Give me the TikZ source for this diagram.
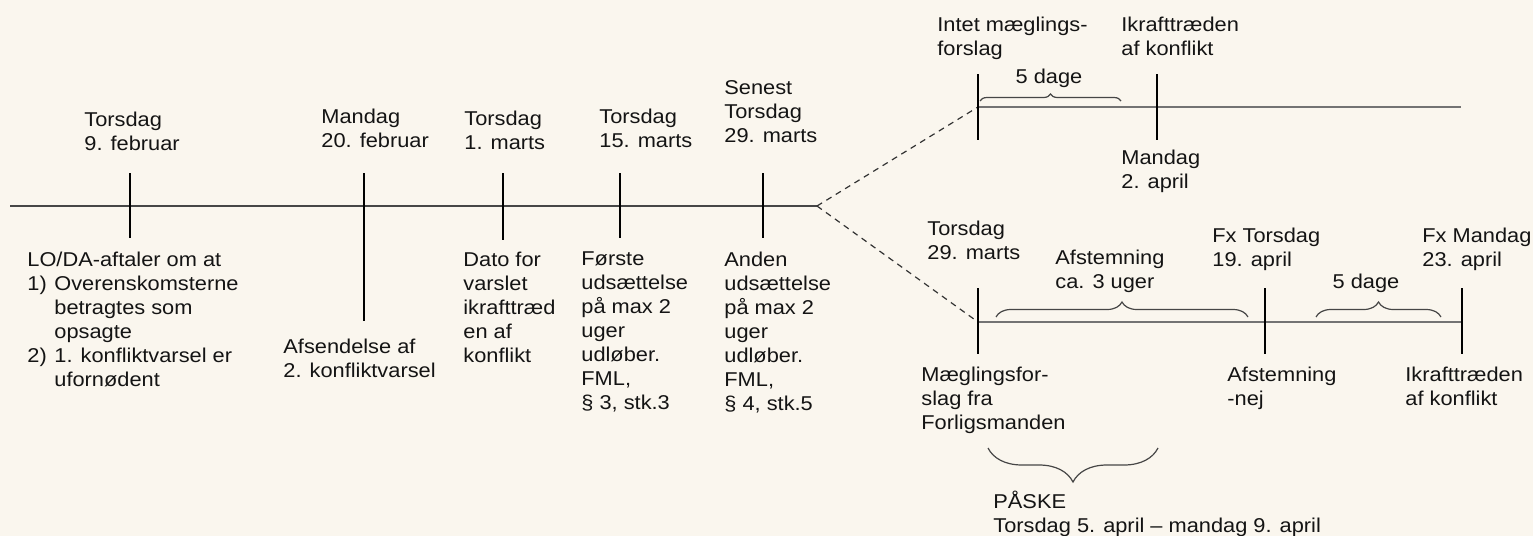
\documentclass[tikz,border=0pt]{standalone}
\usepackage{fontspec}
\setmainfont{Liberation Sans}[FakeStretch=1.09]
\usetikzlibrary{decorations.pathreplacing}
\definecolor{paper}{RGB}{250,246,238}
\definecolor{ink}{RGB}{20,20,20}
\definecolor{axisgray}{RGB}{70,70,70}
\begin{document}
\begin{tikzpicture}[x=0.5pt, y=-0.5pt,
    axis/.style={axisgray, line width=0.9pt},
    branch/.style={black!55, line width=1pt},
    tick/.style={black, line width=0.7pt},
    forkline/.style={black!80, line width=0.6pt, dash pattern=on 3pt off 2.5pt},
    curly/.style={axisgray, line width=0.6pt, decorate, decoration={brace, amplitude=#1}},
    lbl/.style={anchor=north west, inner sep=0pt, align=left, text=ink,
        font=\fontsize{10}{12}\selectfont, yshift=7.2pt},
    lblc/.style={anchor=base, inner sep=0pt, text=ink, font=\fontsize{10}{12}\selectfont}]
    % background and size
    \fill[paper] (0,0) rectangle (1533,536);
    \useasboundingbox (0,0) rectangle (1533,536);
    % main axis
    \coordinate (start) at (10,206);
    \coordinate (fork) at (817,206);
    \draw[axis] (start) -- (fork);
    % tick marks on main axis
    \foreach \n/\x/\lo in {feb9/130/238, feb20/364/321, mar1/503/240, mar15/620/238, mar29/763/238} {
        \coordinate (\n top) at (\x,173);
        \coordinate (\n bot) at (\x,\lo);
        \draw[tick] (\n top) -- (\n bot);
    }
    % upper branch
    \coordinate (up0) at (978,107);
    \coordinate (up1) at (1461,107);
    \draw[forkline] (fork) -- (up0);
    \draw[branch] (up0) -- (up1);
    \foreach \n/\x in {upa/978, upb/1157} {
        \coordinate (\n top) at (\x,74);
        \coordinate (\n bot) at (\x,140);
        \draw[tick] (\n top) -- (\n bot);
    }
    % lower branch
    \coordinate (lo0) at (978,322);
    \coordinate (lo1) at (1462,322);
    \draw[forkline] (fork) -- (lo0);
    \draw[branch] (lo0) -- (lo1);
    \foreach \n/\x in {loa/978, lob/1265, loc/1462} {
        \coordinate (\n top) at (\x,288);
        \coordinate (\n bot) at (\x,354);
        \draw[tick] (\n top) -- (\n bot);
    }
    % braces
    \coordinate (br1a) at (980,101);
    \coordinate (br1b) at (1121,101);
    \draw[curly=3.5pt] (br1a) -- (br1b);
    \coordinate (br2a) at (996,317);
    \coordinate (br2b) at (1248,317);
    \draw[curly=7.5pt] (br2a) -- (br2b);
    \coordinate (br3a) at (1316,317);
    \coordinate (br3b) at (1441,317);
    \draw[curly=7.5pt] (br3a) -- (br3b);
    \coordinate (br4a) at (1158,448);
    \coordinate (br4b) at (988,448);
    \draw[curly=17pt] (br4a) -- (br4b);
    % dates above main axis
    \node[lbl] (feb9 date) at (84,126) {Torsdag\\9. februar};
    \node[lbl] (feb20 date) at (321,123) {Mandag\\20. februar};
    \node[lbl] (mar1 date) at (464,125) {Torsdag\\1. marts};
    \node[lbl] (mar15 date) at (599,123) {Torsdag\\15. marts};
    \node[lbl] (mar29 date) at (724,95) {Senest\\Torsdag\\29. marts};
    % notes below main axis
    \node[lbl] (feb9 note) at (27,266) {LO/DA-aftaler om at\\
        \makebox[13.5pt][l]{1)}Overenskomsterne\\
        \hspace*{13.5pt}betragtes som\\
        \hspace*{13.5pt}opsagte\\
        \makebox[13.5pt][l]{2)}1. konfliktvarsel er\\
        \hspace*{13.5pt}ufornødent};
    \node[lbl] (feb20 note) at (283,353) {Afsendelse af\\2. konfliktvarsel};
    \node[lbl] (mar1 note) at (463,266) {Dato for\\varslet\\ikrafttræd\\en af\\konflikt};
    \node[lbl] (mar15 note) at (581,266) {Første\\udsættelse\\på max 2\\uger\\udløber.\\FML,\\§ 3, stk.3};
    \node[lbl] (mar29 note) at (724,266) {Anden\\udsættelse\\på max 2\\uger\\udløber.\\FML,\\§ 4, stk.5};
    % upper branch labels
    \node[lbl] (nomed) at (937,31) {Intet mæglings-\\forslag};
    \node[lbl] (strike up) at (1121,31) {Ikrafttræden\\af konflikt};
    \node[lblc] (days up) at (1049,83) {5 dage};
    \node[lbl] (apr2) at (1121,164) {Mandag\\2. april};
    % lower branch labels
    \node[lbl] (mar29 low) at (927,235) {Torsdag\\29. marts};
    \node[lbl] (vote period) at (1055,264) {Afstemning\\ca. 3 uger};
    \node[lbl] (apr19) at (1212,242) {Fx Torsdag\\19. april};
    \node[lblc] (days low) at (1366,288) {5 dage};
    \node[lbl] (apr23) at (1422,242) {Fx Mandag\\23. april};
    \node[lbl] (proposal) at (921,381) {Mæglingsfor-\\slag fra\\Forligsmanden};
    \node[lbl] (vote no) at (1227,381) {Afstemning\\-nej};
    \node[lbl] (strike low) at (1405,381) {Ikrafttræden\\af konflikt};
    \node[lbl] (easter) at (993,505) {PÅSKE\\Torsdag 5. april -- mandag 9. april};
\end{tikzpicture}
\end{document}
